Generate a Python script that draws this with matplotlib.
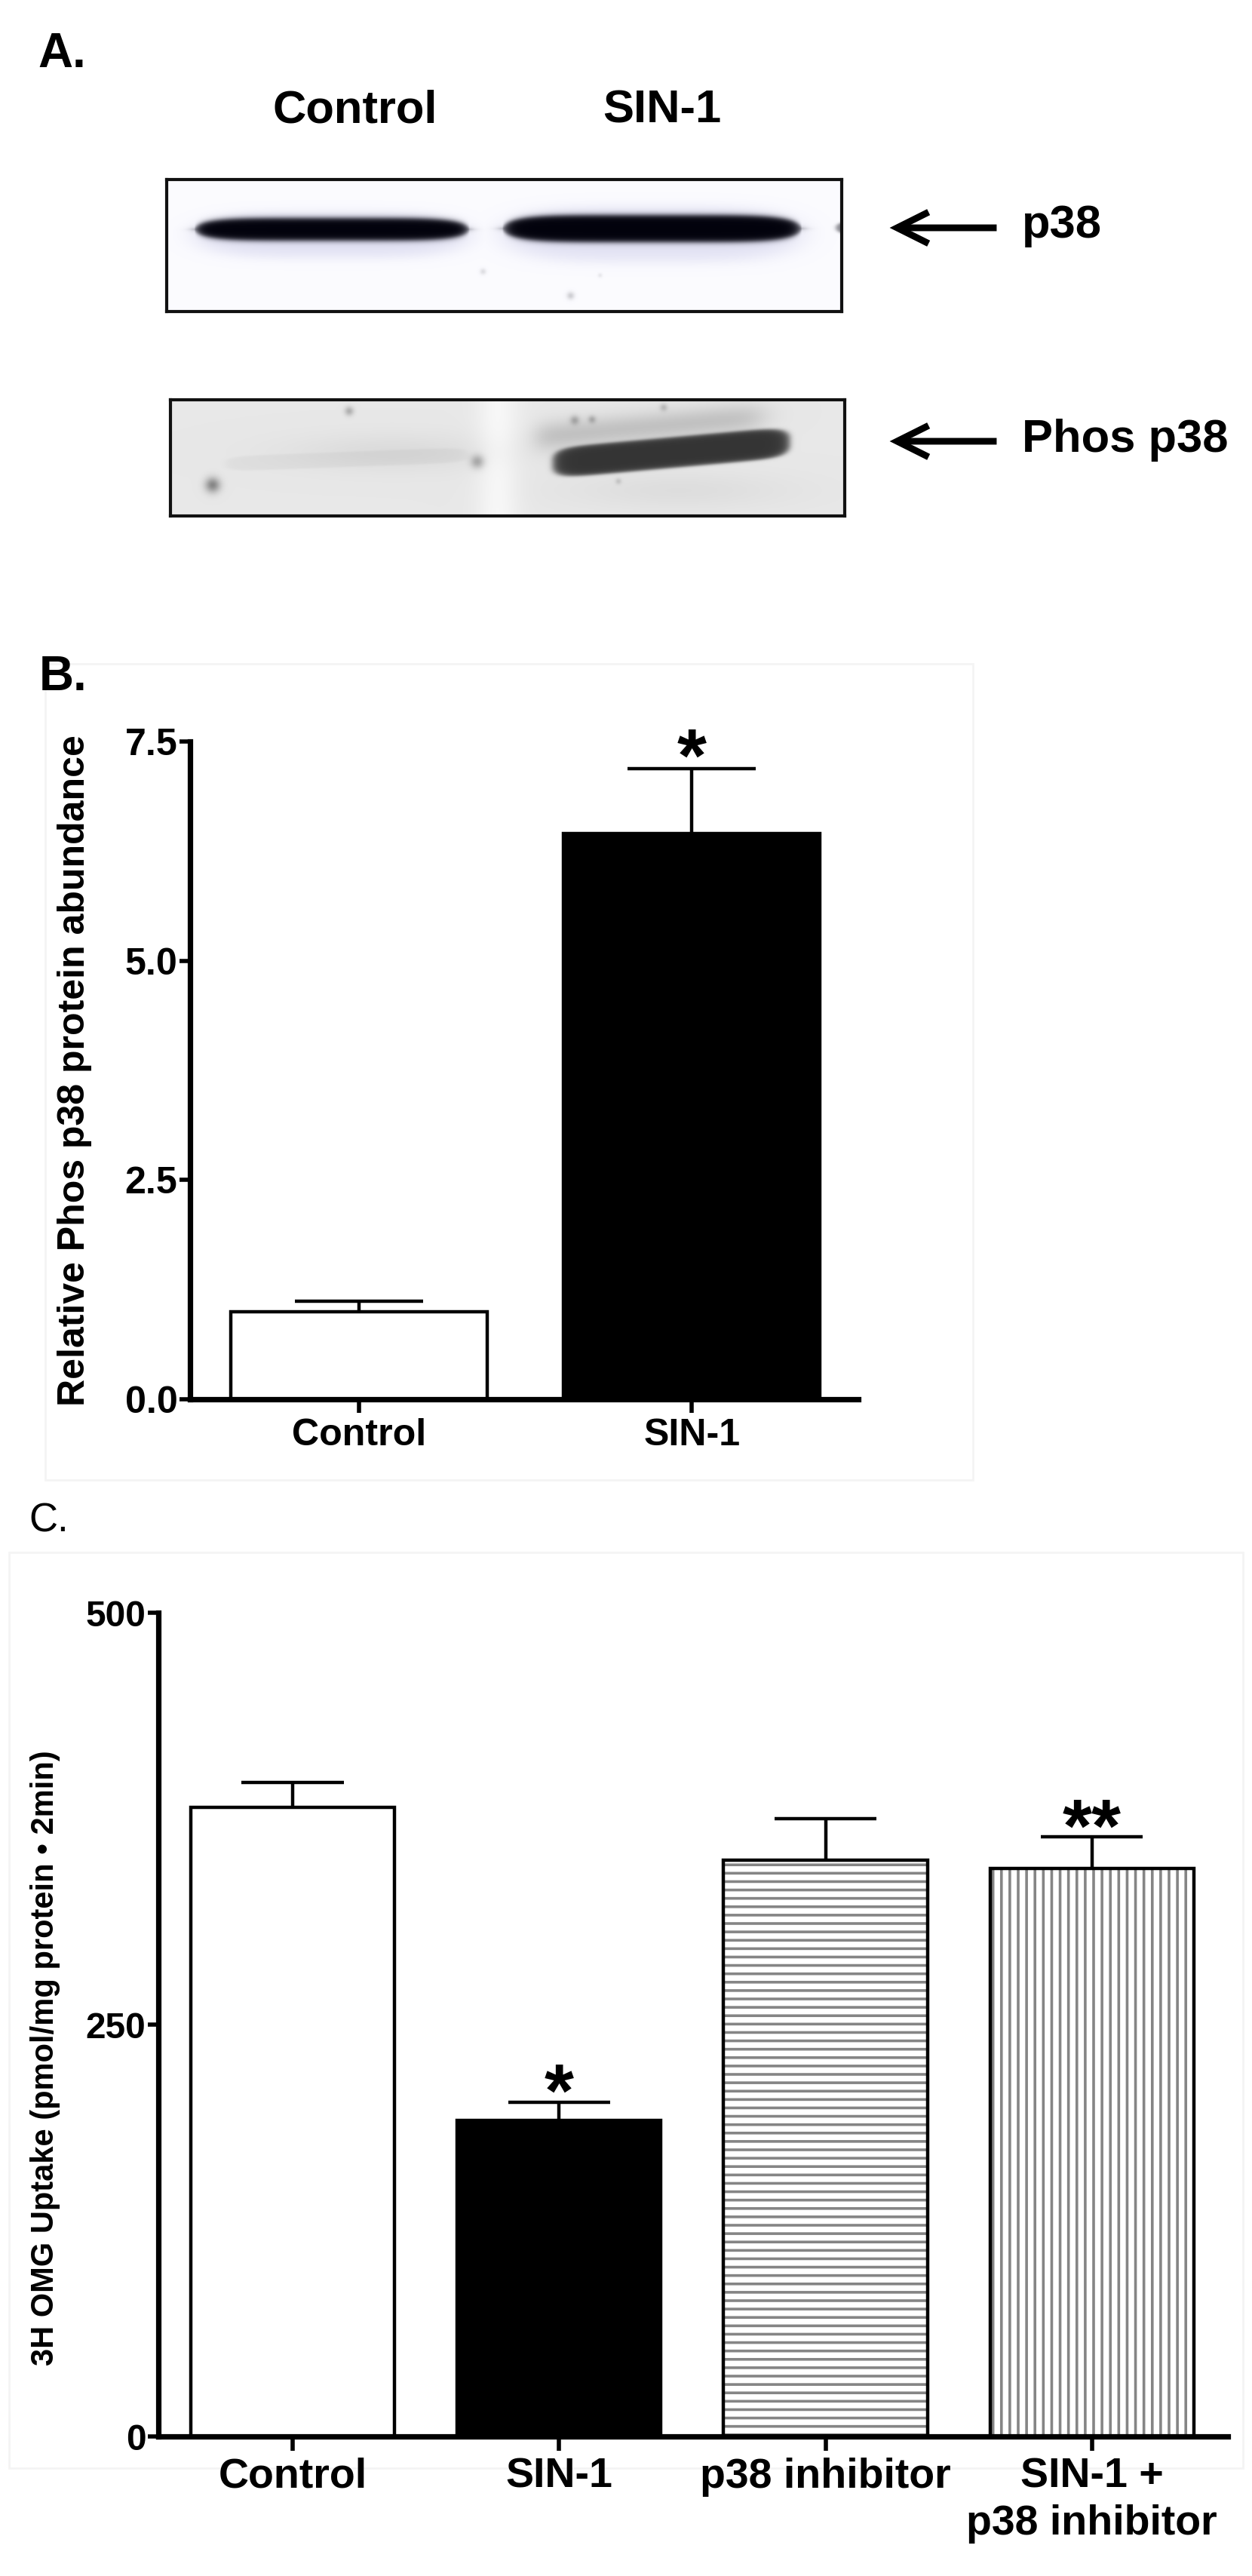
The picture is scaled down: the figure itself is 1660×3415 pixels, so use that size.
import numpy as np
import matplotlib
matplotlib.use("Agg")
import matplotlib.pyplot as plt
from matplotlib import font_manager as fm
from matplotlib.patches import FancyArrowPatch, Rectangle

# ---------------- data ----------------
blot_lanes = ["Control", "SIN-1"]
blot_rows = ["p38", "Phos p38"]
p38_band_strength = [1.0, 1.0]
phos_band_strength = [0.05, 1.0]

b_categories = ["Control", "SIN-1"]
b_values = [1.0, 6.45]
b_errors = [0.12, 0.74]
b_colors = ["white", "black"]
b_stars = ["", "*"]
b_yticks = [0.0, 2.5, 5.0, 7.5]
b_ylabel = "Relative Phos p38 protein abundance"

c_categories = ["Control", "SIN-1", "p38 inhibitor", "SIN-1 +\np38 inhibitor"]
c_values = [382, 192, 350, 345]
c_errors = [15, 11, 25, 19]
c_colors = ["white", "black", "white", "white"]
c_hatches = ["", "", "---", "|||"]
c_stars = ["", "*", "", "**"]
c_yticks = [0, 250, 500]
c_ylabel = "3H OMG Uptake (pmol/mg protein \u2022 2min)"

# ---------------- setup ----------------
names = {f.name for f in fm.fontManager.ttflist}
REG = "Liberation Sans" if "Liberation Sans" in names else "DejaVu Sans"
NAR = "Liberation Sans Narrow" if "Liberation Sans Narrow" in names else REG
nar_scale = 1.0 if NAR != REG else 0.82
plt.rcParams["font.family"] = [REG, "DejaVu Sans"]
plt.rcParams["hatch.linewidth"] = 1.3

W, H = 1660, 3415
DPI = 200
fig = plt.figure(figsize=(W / DPI, H / DPI), dpi=DPI)
fig.patch.set_facecolor("white")

SPINE_LW = 2.6
EDGE_LW = 1.6


def add_ax(x0, y0, x1, y1):
    return fig.add_axes([x0 / W, 1 - y1 / H, (x1 - x0) / W, (y1 - y0) / H])


def ftxt(x, y, s, **kw):
    fig.text(x / W, 1 - y / H, s, **kw)


# ---------------- panel A ----------------
ftxt(50, 72, "A.", fontsize=28 * nar_scale, weight="bold", family=[NAR, REG], va="center")
lane_x = [471, 878]
for lx, name in zip(lane_x, blot_lanes):
    ftxt(lx, 147, name, fontsize=27 * nar_scale, weight="bold", family=[NAR, REG],
         ha="center", va="center")


def blot_axes(x0, y0, x1, y1):
    ax = add_ax(x0, y0, x1, y1)
    ax.set_xlim(x0, x1)
    ax.set_ylim(y1, y0)
    ax.set_xticks([])
    ax.set_yticks([])
    for s in ax.spines.values():
        s.set_linewidth(1.5)
        s.set_color("#111111")
    return ax


# p38 blot
x0, y0, x1, y1 = 221, 238, 1116, 413
ax = blot_axes(x0, y0, x1, y1)
X, Y = np.meshgrid(np.arange(x0, x1) + 0.5, np.arange(y0, y1) + 0.5)
alpha = np.zeros_like(X)
halo = np.zeros_like(X)
p38_geom = [(258, 622, 304, 15), (666, 1062, 303, 18)]
for (a, b, yc, hh), st in zip(p38_geom, p38_band_strength):
    xc, hw = (a + b) / 2, (b - a) / 2
    u = (X - xc) / hw
    thick = hh * np.sqrt(np.clip(1 - np.abs(u) ** 6, 0, None))
    d = np.abs(Y - yc) - thick
    core = st / (1 + np.exp(d / 2.0))
    core *= 1 / (1 + np.exp((np.abs(u) - 1) * 40))
    alpha = np.maximum(alpha, core)
    d2 = np.abs((X - xc) / (hw * 0.97)) ** 4 + np.abs((Y - yc - 8) / (hh * 1.9)) ** 2
    halo = np.maximum(halo, 0.22 * st / (1 + np.exp((d2 - 1) * 3)))
# small band fragment at the right edge
d = np.abs((X - 1124) / 16) ** 2 + np.abs((Y - 302) / 8) ** 2
alpha = np.maximum(alpha, 0.5 / (1 + np.exp((d - 1) * 4)))
for sx, sy, r, dk in [(640, 360, 4, 0.12), (756, 392, 5, 0.18), (795, 365, 3, 0.08)]:
    alpha = np.maximum(alpha, dk * np.exp(-(((X - sx) ** 2 + (Y - sy) ** 2) / r ** 2)))
band_col = np.array([0.01, 0.01, 0.05])
halo_col = np.array([0.50, 0.50, 0.78])
bg = np.array([0.985, 0.985, 1.0])
img = bg[None, None, :] * (1 - halo[..., None]) + halo_col * halo[..., None]
img = img * (1 - alpha[..., None]) + band_col * alpha[..., None]
ax.imshow(np.clip(img, 0, 1), extent=(x0, x1, y1, y0), aspect="auto", interpolation="bilinear")
ax.set_xlim(x0, x1)
ax.set_ylim(y1, y0)

# Phos p38 blot
x0, y0, x1, y1 = 226, 530, 1120, 684
ax = blot_axes(x0, y0, x1, y1)
X, Y = np.meshgrid(np.arange(x0, x1) + 0.5, np.arange(y0, y1) + 0.5)
gray = np.full(X.shape, 0.91)
gray += 0.06 * np.exp(-((X - 660) / 28) ** 2)
gray -= 0.05 * np.exp(-((X - 520) / 140) ** 2 - ((Y - 600) / 25) ** 2)
gray -= 0.04 * np.exp(-((X - 900) / 150) ** 2 - ((Y - 650) / 25) ** 2)
gray -= 0.15 * (1 / (1 + np.exp(-(X - 712) / 8))) * (1 / (1 + np.exp((X - 1010) / 12))) * \
    np.exp(-((Y - (578 - (X - 730) * 0.09)) / 20) ** 2)
for sx, sy, r, dk in [(282, 643, 10, 0.38), (463, 545, 6, 0.22), (633, 612, 9, 0.25),
                      (762, 557, 6, 0.2), (785, 556, 5, 0.18), (880, 540, 5, 0.15),
                      (820, 638, 4, 0.12)]:
    gray -= dk * np.exp(-(((X - sx) ** 2 + (Y - sy) ** 2) / r ** 2))
phos_geom = [(300, 620, 615, 603, 10), (734, 1046, 614, 586, 20)]
for (a, b, yl, yr, hh), st in zip(phos_geom, phos_band_strength):
    xc, hw = (a + b) / 2, (b - a) / 2
    ycen = yl + (X - a) / (b - a) * (yr - yl)
    d = np.abs((X - xc) / hw) ** 10 + np.abs((Y - ycen) / hh) ** 3
    band = st / (1 + np.exp((d - 1) * 5))
    gray = gray * (1 - band) + 0.2 * band
ax.imshow(np.clip(np.dstack([gray] * 3), 0, 1), extent=(x0, x1, y1, y0), aspect="auto",
          interpolation="bilinear")
ax.set_xlim(x0, x1)
ax.set_ylim(y1, y0)

# arrows & labels
for yy, lab in zip([302, 585], blot_rows):
    arr = FancyArrowPatch((1327 / W, 1 - yy / H), (1174 / W, 1 - yy / H),
                          transform=fig.transFigure,
                          arrowstyle="->,head_length=15,head_width=7.5",
                          mutation_scale=1, lw=3.2, color="black",
                          joinstyle="miter", capstyle="butt")
    fig.add_artist(arr)
    ftxt(1355, yy - 2, lab, fontsize=27 * nar_scale, weight="bold", family=[NAR, REG],
         va="center", ha="left")

# ---------------- panel B ----------------
ftxt(52, 898, "B.", fontsize=28 * nar_scale, weight="bold", family=[NAR, REG], va="center")
fig.add_artist(Rectangle((60 / W, 1 - 1962 / H), (1290 - 60) / W, (1962 - 880) / H,
                         transform=fig.transFigure, fill=False, ec="#f4f4f4", lw=1,
                         zorder=-10))

axB = add_ax(252, 983, 1138, 1855)
xb = np.arange(len(b_categories))
wB = 0.77
axB.bar(xb, b_values, width=wB, color=b_colors, edgecolor="black", linewidth=EDGE_LW, zorder=2)
for xi, v, e in zip(xb, b_values, b_errors):
    axB.vlines(xi, v, v + e, color="black", lw=EDGE_LW, zorder=1)
    axB.hlines(v + e, xi - wB / 4, xi + wB / 4, color="black", lw=EDGE_LW, zorder=1)
for xi, v, e, s in zip(xb, b_values, b_errors, b_stars):
    if s:
        axB.annotate(s, (xi, v + e), xytext=(0, -6), textcoords="offset points",
                     ha="center", va="baseline", fontsize=36, weight="bold")
axB.set_xlim(-0.507, 1.50)
axB.set_ylim(0, 7.5)
axB.set_yticks(b_yticks)
axB.set_yticklabels([f"{t:.1f}" for t in b_yticks])
axB.set_xticks(xb)
axB.set_xticklabels(b_categories)
for lab in axB.get_xticklabels() + axB.get_yticklabels():
    lab.set_family([NAR, REG])
    lab.set_fontsize(22 * nar_scale)
    lab.set_weight("bold")
axB.tick_params(axis="y", length=5, width=2, pad=1)
axB.tick_params(axis="x", length=6.5, width=2, pad=2.5)
for s in ["top", "right"]:
    axB.spines[s].set_visible(False)
for s in ["left", "bottom"]:
    axB.spines[s].set_linewidth(SPINE_LW)
axB.set_ylabel(b_ylabel, fontsize=18, weight="bold")
axB.yaxis.set_label_coords(-(252 - 122) / (1138 - 252), 0.5)
axB.patch.set_alpha(0)

# ---------------- panel C ----------------
ftxt(38, 2017, "C.", fontsize=19, va="center")
fig.add_artist(Rectangle((12 / W, 1 - 3272 / H), (1648 - 12) / W, (3272 - 2058) / H,
                         transform=fig.transFigure, fill=False, ec="#f4f4f4", lw=1,
                         zorder=-10))

axC = add_ax(210, 2138, 1628, 3230)
xc_ = np.arange(len(c_categories))
wC = 0.765
for xi, v, col, h in zip(xc_, c_values, c_colors, c_hatches):
    if h:
        axC.bar(xi, v, width=wC, color="white", edgecolor="#858585", hatch=h, linewidth=0,
                zorder=2)
        axC.bar(xi, v, width=wC, fill=False, edgecolor="black", linewidth=EDGE_LW, zorder=3)
    else:
        axC.bar(xi, v, width=wC, color=col, edgecolor="black", linewidth=EDGE_LW, zorder=2)
for xi, v, e in zip(xc_, c_values, c_errors):
    axC.vlines(xi, v, v + e, color="black", lw=EDGE_LW, zorder=1)
    axC.hlines(v + e, xi - wC / 4, xi + wC / 4, color="black", lw=EDGE_LW, zorder=1)
for xi, v, e, s in zip(xc_, c_values, c_errors, c_stars):
    if s:
        axC.annotate(s, (xi, v + e), xytext=(0, -7), textcoords="offset points",
                     ha="center", va="baseline", fontsize=36, weight="bold")
axC.set_xlim(-0.504, 3.51)
axC.set_ylim(0, 500)
axC.set_yticks(c_yticks)
axC.set_yticklabels([str(t) for t in c_yticks])
axC.set_xticks(xc_)
axC.set_xticklabels(c_categories, linespacing=1.25)
for lab in axC.get_yticklabels():
    lab.set_family([NAR, REG])
    lab.set_fontsize(21 * nar_scale)
    lab.set_weight("bold")
for lab in axC.get_xticklabels():
    lab.set_fontsize(20)
    lab.set_weight("bold")
    lab.set_va("top")
axC.tick_params(axis="y", length=5, width=2, pad=1)
axC.tick_params(axis="x", length=7, width=2, pad=3)
for s in ["top", "right"]:
    axC.spines[s].set_visible(False)
for s in ["left", "bottom"]:
    axC.spines[s].set_linewidth(SPINE_LW)
axC.set_ylabel(c_ylabel, fontsize=15, weight="bold")
axC.yaxis.set_label_coords(-(210 - 80) / (1628 - 210), 0.46)
axC.patch.set_alpha(0)

fig.savefig("out.png", dpi=DPI, facecolor="white")
